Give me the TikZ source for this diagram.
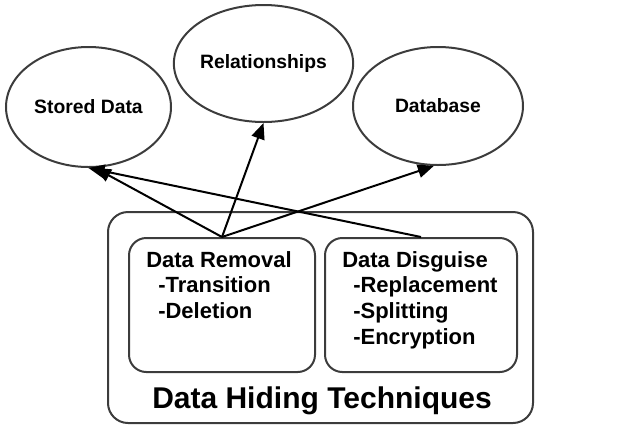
\documentclass[tikz,border=0pt]{standalone}
\usepackage{fontspec}
\setmainfont{Liberation Sans}
\usetikzlibrary{shapes.geometric,arrows.meta}
\definecolor{edge}{RGB}{60,60,60}
\tikzset{
  oval/.style={ellipse, draw=edge, line width=1.5pt, inner sep=0pt,
    font=\fontsize{14.5pt}{17pt}\selectfont\bfseries},
  rbox/.style={rectangle, rounded corners=13pt, draw=edge, line width=1.5pt, inner sep=0pt},
  itemtxt/.style={anchor=base west, inner sep=0pt, font=\fontsize{16.5pt}{19.5pt}\selectfont\bfseries},
  conn/.style={line width=1.5pt, -{Triangle[length=12pt,width=10pt]}}
}
\begin{document}
\begin{tikzpicture}[x=0.75pt,y=-0.75pt]
\useasboundingbox (0,0) rectangle (625,426);
% ellipses
\node[oval, minimum width={165*0.75pt}, minimum height={120*0.75pt}] (sd) at (88.5,107) {Stored Data};
\node[oval, minimum width={169*0.75pt}, minimum height={117*0.75pt}] (rel) at (263.5,63.5) {Relationships};
\node[oval, minimum width={170*0.75pt}, minimum height={118*0.75pt}] (db) at (438,106) {Database};
% outer box
\node[rbox, rounded corners=15pt, minimum width={425*0.75pt}, minimum height={211*0.75pt}] (outer) at (320.5,317.5) {};
\node[anchor=base, inner sep=0pt, font=\fontsize{22.5pt}{26pt}\selectfont\bfseries] (title) at (322,408) {Data Hiding Techniques};
% inner boxes
\node[rbox, minimum width={186*0.75pt}, minimum height={134*0.75pt}] (rem) at (222,305) {};
\node[rbox, minimum width={192*0.75pt}, minimum height={134*0.75pt}] (dis) at (421,305) {};
% texts
\node[itemtxt] (remh) at (146,267) {Data Removal};
\node[itemtxt] (rem1) at (158,292) {-Transition};
\node[itemtxt] (rem2) at (158,318) {-Deletion};
\node[itemtxt] (dish) at (342,267) {Data Disguise};
\node[itemtxt] (dis1) at (353,292) {-Replacement};
\node[itemtxt] (dis2) at (353,318) {-Splitting};
\node[itemtxt] (dis3) at (353,344) {-Encryption};
% connectors
\draw[conn] (rem.north) -- (sd.-84);
\draw[conn] (rem.north) -- (rel.south);
\draw[conn] (rem.north) -- (db.-94);
\draw[conn] (dis.north) -- (sd.south);
\end{tikzpicture}
\end{document}
